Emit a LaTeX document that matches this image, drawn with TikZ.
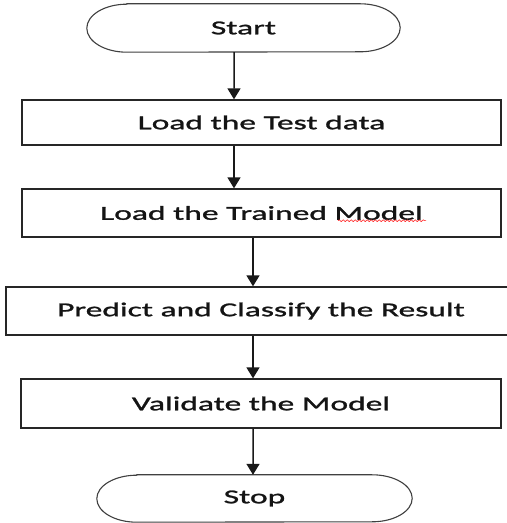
\documentclass[tikz,border=0pt]{standalone}
\usepackage{fontspec}
\setmainfont[FakeStretch=1.7,FakeBold=1.3]{Carlito}
\usetikzlibrary{arrows.meta,decorations.pathmorphing}
\begin{document}
\begin{tikzpicture}[x=1bp,y=1bp,
  txt/.style={font=\fontsize{19.7bp}{22bp}\selectfont, text=black!92, inner sep=0pt},
  procbox/.style={txt, draw=black!85, line width=1.3bp, fill=white},
  termbox/.style={txt, minimum width=313bp, minimum height=48bp},
  termline/.style={draw=black!75, line width=1.1bp},
  arr/.style={line width=1.5bp, draw=black!90, -{Triangle[width=13bp,length=11bp]}},
  squig/.style={draw=red!85, line width=0.6bp, decorate, decoration={snake, amplitude=0.9bp, segment length=4bp}}
]
\clip (0,0) rectangle (507,523);
\fill[white] (0,0) rectangle (507,523);

% terminals
\node[termbox] (start) at (243.5,495) {Start};
\node[termbox, minimum width=315bp, minimum height=47bp] (stop) at (254.5,24.5) {Stop};

\path[termline] ([xshift=40bp]start.north west) -- ([xshift=-40bp]start.north east)
  arc[start angle=90, end angle=-90, x radius=40bp, y radius=24bp]
  -- ([xshift=40bp]start.south west)
  arc[start angle=270, end angle=90, x radius=40bp, y radius=24bp] -- cycle;
\path[termline] ([xshift=40bp]stop.north west) -- ([xshift=-40bp]stop.north east)
  arc[start angle=90, end angle=-90, x radius=40bp, y radius=23.5bp]
  -- ([xshift=40bp]stop.south west)
  arc[start angle=270, end angle=90, x radius=40bp, y radius=23.5bp] -- cycle;

% process boxes
\node[procbox, minimum width=479bp, minimum height=45bp] (load) at (261.5,400.5) {Load the Test data};
\node[procbox, minimum width=479bp, minimum height=48bp] (model) at (261.5,310) {Load the Trained Model};
\node[procbox, minimum width=510bp, minimum height=48bp] (predict) at (261,212) {Predict and Classify the Result};
\node[procbox, minimum width=480bp, minimum height=49bp] (valid) at (261,119.5) {Validate the Model};

% spell-check squiggle under "Model"
\coordinate (sqa) at (338,302.3);
\coordinate (sqb) at (426,302.3);
\draw[squig] (sqa) -- (sqb);

% connectors
\draw[arr] ([xshift=-9.5bp]start.south) -- ([xshift=-27.5bp]load.north);
\draw[arr] ([xshift=-27.5bp]load.south) -- ([xshift=-27.5bp]model.north);
\draw[arr] ([xshift=-8.5bp]model.south) -- ([xshift=-8bp]predict.north);
\draw[arr] ([xshift=-8bp]predict.south) -- ([xshift=-8bp]valid.north);
\draw[arr] ([xshift=-8bp]valid.south) -- ([xshift=-1.5bp]stop.north);
\end{tikzpicture}
\end{document}
